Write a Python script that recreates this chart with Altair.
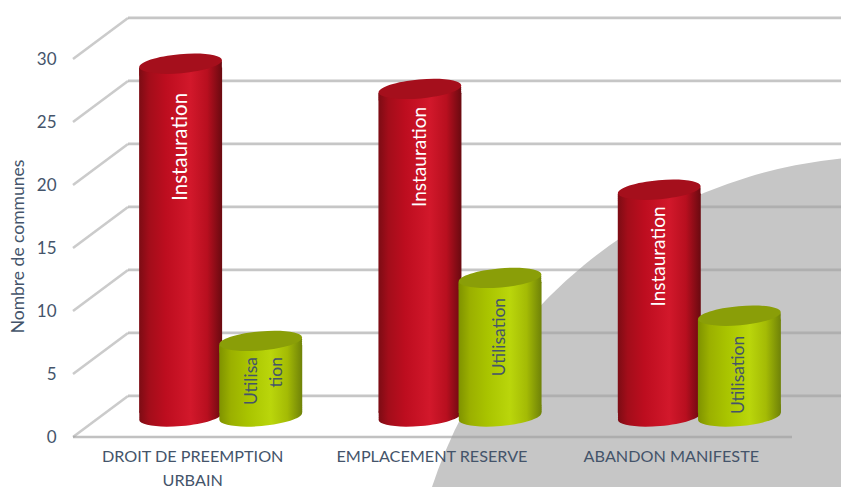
import altair as alt

# Survey results: number of municipalities per planning tool
tools = ["DROIT DE PREEMPTION\nURBAIN", "EMPLACEMENT RESERVE", "ABANDON MANIFESTE"]
instauration = [28, 26, 18]
utilisation = [6, 11, 8]
ticks = [0, 5, 10, 15, 20, 25, 30]

# Where each rotated label sits along its cylinder, in axis units
instauration_label_at = [21.4, 20.6, 12.7]
instauration_label_size = [20.5, 19, 19]
utilisation_label_at = [4.72, 6.3, 3.3]

INK = "#44546a"
DEPTH = 1.63  # half of the floor depth, in axis units
ELLIPSE = "M-1,0 A1,0.23 0 1,1 1,0 A1,0.23 0 1,1 -1,0 Z"
SERIES = ["Instauration", "Utilisation"]
# The end caps lean to one side, so the shaft stops short of them and
# a short stack of ellipses closes the gap at the cylinder's edges
SHOULDER = [0.6, 0.45, 0.3, 0.15, 0]
SHAFT_INSET = 0.3

x_scale = alt.Scale(domain=tools, range=[101, 819], paddingInner=0, paddingOuter=0)
x_enc = alt.X("tool:N", sort=tools, title=None, scale=x_scale)
x_off = alt.XOffset(
    "series:N",
    sort=SERIES,
    scale=alt.Scale(domain=SERIES, paddingInner=0, paddingOuter=0.49375),
)
y_scale = alt.Scale(domain=[0, 30], range=[416.5, 38.5])


def shade(stops):
    return alt.LinearGradient(
        gradient="linear",
        x1=0, x2=1, y1=0, y2=0,
        stops=[alt.GradientStop(offset=o, color=c) for o, c in stops],
    )


RED = shade([(0, "#7c0c14"), (0.12, "#a30d1a"), (0.32, "#bd0d1f"), (0.62, "#d2182b"), (0.82, "#b80f1f"), (1, "#690a10")])
GREEN = shade([(0, "#7f9200"), (0.14, "#9bb000"), (0.35, "#a9c400"), (0.62, "#bad60b"), (0.82, "#a4bb05"), (1, "#6f8208")])


def ellipse(rows, fill):
    return alt.Chart(alt.Data(values=rows)).mark_point(
        shape=ELLIPSE, size=6889, filled=True, fill=fill, angle=355, opacity=1
    ).encode(x=x_enc, xOffset=x_off, y=alt.Y("at:Q", scale=y_scale))


def cylinder(rows, body, cap):
    ends = [{**r, "at": d} for d in SHOULDER for r in rows]
    ends += [{**r, "at": r["value"] - d} for d in SHOULDER[:-1] for r in rows]
    shaft_rows = [{**r, "low": SHAFT_INSET, "high": r["value"] - SHAFT_INSET} for r in rows]
    shaft = alt.Chart(alt.Data(values=shaft_rows)).mark_bar(width=83, fill=body).encode(
        x=x_enc, xOffset=x_off, y=alt.Y("high:Q", scale=y_scale), y2="low:Q"
    )
    top = ellipse([{**r, "at": r["value"]} for r in rows], cap)
    return ellipse(ends, body) + shaft + top


red_rows = [
    {"tool": t, "series": "Instauration", "value": v, "pos": a, "fs": f}
    for t, v, a, f in zip(tools, instauration, instauration_label_at, instauration_label_size)
]
green_rows = [
    {"tool": t, "series": "Utilisation", "value": v, "pos": a}
    for t, v, a in zip(tools, utilisation, utilisation_label_at)
]
grid_rows = [{"back": v + DEPTH, "front": v - DEPTH} for v in ticks]

# Decorative grey disc behind the chart
disc = alt.Chart(alt.Data(values=[{"d": 1}])).mark_point(
    shape="circle", size=925444, filled=True, color="#c6c6c6", opacity=1, clip=True
).encode(x=alt.value(889), y=alt.value(637))

grid_data = alt.Data(values=grid_rows)

wall = alt.Chart(grid_data).mark_rule(stroke="#a0a0a0", strokeOpacity=0.6, strokeWidth=2.8).encode(
    x=alt.value(128), x2=alt.value(841), y=alt.Y("back:Q", scale=y_scale)
)
side = alt.Chart(grid_data).mark_rule(stroke="#a0a0a0", strokeOpacity=0.55, strokeWidth=2.6).encode(
    x=alt.value(73), x2=alt.value(128), y=alt.Y("front:Q", scale=y_scale), y2="back:Q"
)
floor = alt.Chart(alt.Data(values=[{"front": -DEPTH}])).mark_rule(stroke="#a0a0a0", strokeOpacity=0.65, strokeWidth=2.4).encode(
    x=alt.value(73), x2=alt.value(792), y=alt.Y("front:Q", scale=y_scale)
)

# Carries both axes; the labels are pulled back onto the front edge of the floor
axis_layer = alt.Chart(alt.Data(values=red_rows)).mark_point(opacity=0).encode(
    x=alt.X(
        "tool:N", sort=tools, title=None, scale=x_scale,
        axis=alt.Axis(
            domain=False, ticks=False, offset=-50, labelOffset=-28, labelPadding=11, labelAngle=0,
            labelFont="Lato", labelFontSize=16.2, labelColor=INK, labelLineHeight=24, labelLimit=300,
            labelExpr="split(datum.label, '\\n')", zindex=1,
        ),
    ),
    y=alt.Y(
        "value:Q", scale=y_scale,
        axis=alt.Axis(
            values=ticks, grid=False, domain=False, ticks=False, offset=-73,
            labelPadding=17, labelOffset=21, labelFontSize=17, labelColor=INK, labelFont="Lato",
            title="Nombre de communes", titleFont="Lato", titleFontSize=17.5, titleFontWeight="normal",
            titleColor=INK, titleX=-46, titleY=246, titleAngle=270, zindex=1,
        ),
    ),
)

red_text = alt.Chart(alt.Data(values=red_rows)).mark_text(
    angle=270, color="white", font="Lato", align="center", baseline="middle"
).encode(
    x=x_enc, xOffset=x_off, y=alt.Y("pos:Q", scale=y_scale),
    text="series:N", size=alt.Size("fs:Q", scale=None, legend=None),
)
green_whole = alt.Chart(alt.Data(values=green_rows[1:])).mark_text(
    angle=270, color=INK, font="Lato", fontSize=17.5, align="center", baseline="middle"
).encode(x=x_enc, xOffset=x_off, y=alt.Y("pos:Q", scale=y_scale), text="series:N")
green_split = alt.Chart(alt.Data(values=[{**green_rows[0], "lines": ["Utilisa", "tion"]}])).mark_text(
    angle=270, color=INK, font="Lato", fontSize=17.5, align="right", baseline="middle", lineHeight=25, dy=-9
).encode(x=x_enc, xOffset=x_off, y=alt.Y("pos:Q", scale=y_scale), text="lines:N")

chart = alt.layer(
    disc,
    wall, side, floor,
    axis_layer,
    cylinder(red_rows, RED, "#a50f1c"),
    cylinder(green_rows, GREEN, "#8a9e08"),
    red_text, green_whole, green_split,
).properties(
    width=841,
    height=487,
    padding=0,
    autosize=alt.AutoSizeParams(type="none"),
    background="white",
).configure_view(stroke=None)

chart.save("out.html", embed_options={"renderer": "svg", "actions": False})
